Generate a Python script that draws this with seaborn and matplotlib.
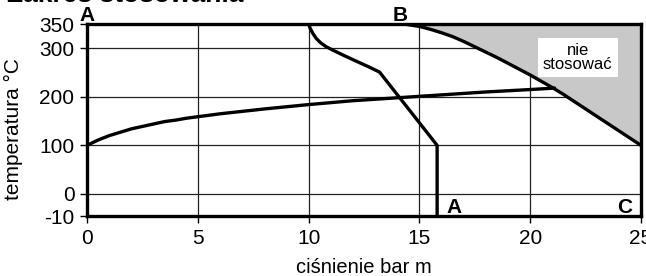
import numpy as np
import matplotlib
matplotlib.use("Agg")
import matplotlib.pyplot as plt
import seaborn as sns
import pandas as pd

# saturation curve (pressure bar m -> temperature C)
sat_pressure = [0, 0.5, 1, 1.5, 2, 2.5, 3, 3.5, 4, 4.5, 5, 6, 7, 8, 10, 12, 14, 16, 18, 20, 21.1]
sat_temp = [100, 111, 120, 127, 134, 139, 144, 149, 152, 156, 159, 165, 170, 175, 184, 192, 198, 204, 210, 215, 218]

# limit curve A-A
aa_pressure = [10.0, 10.08, 10.2, 10.35, 10.55, 10.8, 11.1, 11.6, 12.17, 12.7, 13.2, 15.8, 15.8]
aa_temp = [350, 340, 330, 320, 311, 303, 296, 285, 273, 262, 251, 100, -10]

# limit curve B-C
bc_pressure = [14.3, 15.0, 15.5, 16.0, 16.5, 17.0, 17.5, 18.0, 18.5, 19.0, 19.5, 20.0,
               20.5, 21.0, 21.5, 22.0, 22.5, 23.0, 23.5, 24.0, 24.5, 25.0]
bc_temp = [350, 345, 339, 332, 324, 314, 303, 292, 281, 269, 257, 245,
           232, 219, 205, 190, 175, 160, 145, 130, 115, 100]

x_ticks = [0, 5, 10, 15, 20, 25]
y_ticks = [-10, 0, 100, 200, 300, 350]

sat = pd.DataFrame({"p": sat_pressure, "t": sat_temp})
aa = pd.DataFrame({"p": aa_pressure, "t": aa_temp})
bc = pd.DataFrame({"p": bc_pressure, "t": bc_temp})

sns.set_theme(style="white")
plt.rcParams["font.family"] = ["Liberation Sans", "DejaVu Sans"]

# below zero the scale is stretched
k = 4.55
def fwd(y):
    y = np.asarray(y, dtype=float)
    return np.where(y < 0, y * k, y)

def inv(u):
    u = np.asarray(u, dtype=float)
    return np.where(u < 0, u / k, u)

fig = plt.figure(figsize=(6.46, 2.76), dpi=100)
ax = fig.add_axes([87 / 646, 1 - 216 / 276, 554 / 646, 192 / 276])
ax.set_yscale("function", functions=(fwd, inv))

ax.fill_between(bc["p"], bc["t"], 350, color="#c8c8c8", lw=0, zorder=1)
lw = 2.4
for d in (sat, aa, bc):
    sns.lineplot(data=d, x="p", y="t", ax=ax, color="black", lw=lw,
                 sort=False, estimator=None, zorder=3)

ax.set_xlim(0, 25)
ax.set_ylim(-10, 350)
ax.set_xticks(x_ticks)
ax.set_yticks(y_ticks)
ax.set_yticklabels([str(v) for v in y_ticks])
ax.grid(True, color="#222222", lw=0.9)
ax.set_axisbelow(True)
for s in ax.spines.values():
    s.set_color("black")
    s.set_linewidth(2.4)
    s.set_zorder(4)
ax.tick_params(direction="out", length=5, width=1, color="black", pad=4,
               labelsize=15, labelcolor="black", left=True, bottom=True)

ax.set_xlabel("ciśnienie bar m", fontsize=14.5, color="black", va="baseline")
ax.set_ylabel("temperatura °C", fontsize=15, color="black")
ax.xaxis.set_label_coords(0.5, -0.295)
ax.yaxis.set_label_coords(-0.1155, 0.453)

bold = dict(fontsize=15, fontweight="bold", color="black", va="baseline",
            textcoords="offset points", annotation_clip=False)
ax.annotate("A", xy=(0, 350), xytext=(0, 2), ha="center", **bold)
ax.annotate("B", xy=(14.15, 350), xytext=(0, 2), ha="center", **bold)
ax.annotate("A", xy=(16.2, -10), xytext=(0, 2.5), ha="left", **bold)
ax.annotate("C", xy=(24.62, -10), xytext=(0, 2.5), ha="right", **bold)

ax.text(22.15, 281, "nie\nstosować", fontsize=12, color="black", ha="center", va="center",
        linespacing=0.95, zorder=5,
        bbox=dict(boxstyle="square,pad=0.3", fc="white", ec="none"))

fig.text(7 / 646, 1 - 2 / 276, "Zakres stosowania", fontsize=19, fontweight="bold",
         color="black", ha="left", va="baseline")

fig.savefig("out.png", dpi=100)
